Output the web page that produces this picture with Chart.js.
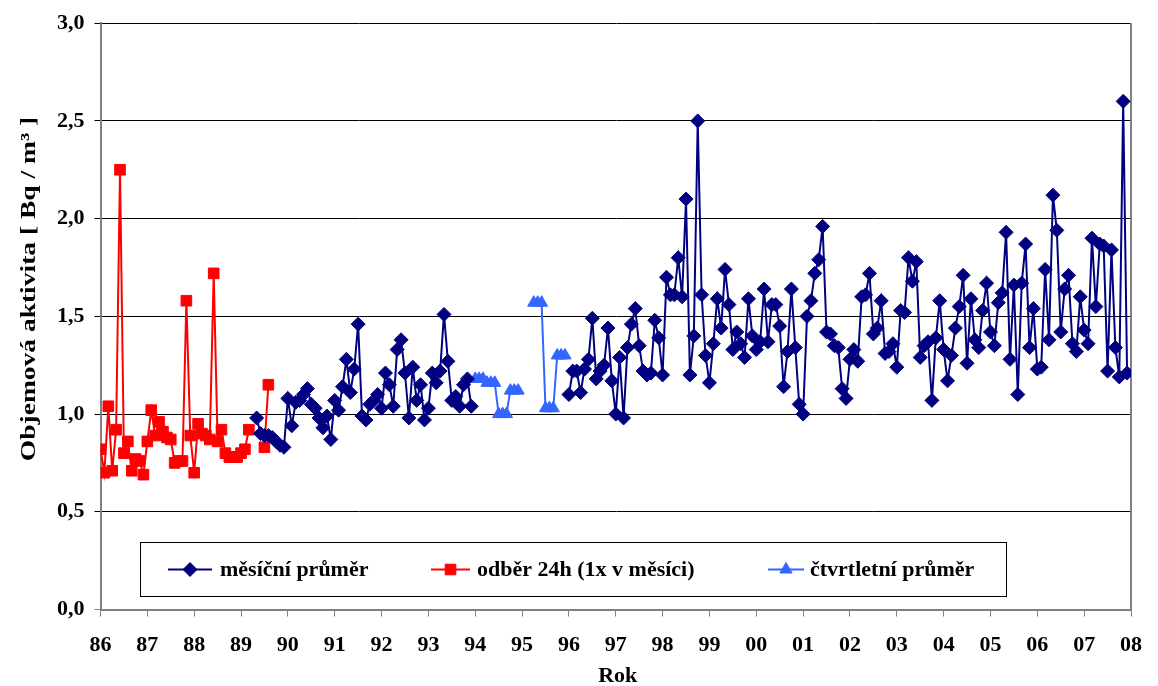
<!DOCTYPE html>
<html>
<head>
<meta charset="utf-8">
<title>Objemová aktivita</title>
<script src="https://cdn.jsdelivr.net/npm/chart.js@4.4.1/dist/chart.umd.min.js"></script>
<style>
  html, body { margin: 0; padding: 0; background: #fff; }
  #wrap { width: 1158px; height: 686px; }
</style>
</head>
<body>
<div id="wrap"><canvas id="chart" width="1158" height="686"></canvas></div>
<script>
// month index 0 = Jan 1986; x value = 86 + month / 12
const firstYear = 86;
const lastYear = 108;
const yTicks = [0, 0.5, 1, 1.5, 2, 2.5, 3];

// odběr 24h (1x v měsíci), from Jan 1986
const redStart = 0;
const redValues = [
  0.82, 0.70, 1.04, 0.71, 0.92, 2.25, 0.80, 0.86, 0.71, 0.77, 0.76, 0.69,
  0.86, 1.02, 0.89, 0.96, 0.91, 0.88, 0.87, 0.75, 0.76, 0.76, 1.58, 0.89,
  0.70, 0.95, 0.90, 0.89, 0.87, 1.72, 0.86, 0.92, 0.80, 0.78, 0.78, 0.78,
  0.80, 0.82, 0.92, null, null, null, 0.83, 1.15
];

// měsíční průměr, first block from May 1989
const monthlyStartA = 40;
const monthlyValuesA = [
  0.98, 0.90, 0.89, 0.89, 0.88, 0.86, 0.84, 0.83,
  1.08, 0.94, 1.06, 1.07, 1.10, 1.13, 1.05, 1.03, 0.98, 0.93, 0.99, 0.87,
  1.07, 1.02, 1.14, 1.28, 1.11, 1.23, 1.46, 0.99, 0.97, 1.05, 1.07, 1.10,
  1.03, 1.21, 1.15, 1.04, 1.33, 1.38, 1.21, 0.98, 1.24, 1.07, 1.15, 0.97,
  1.03, 1.21, 1.16, 1.22, 1.51, 1.27, 1.07, 1.09, 1.04, 1.15, 1.18, 1.04
];

// čtvrtletní průměr, one value per quarter from 1994 (each shown in its 3 months)
const quarterStart = 96;
const quarterValues = [1.18, 1.16, 1.00, 1.12, null, 1.57, 1.03, 1.30];

// měsíční průměr, second block from Jan 1996
const monthlyStartB = 120;
const monthlyValuesB = [
  1.10, 1.22, 1.22, 1.11, 1.23, 1.28, 1.49, 1.18, 1.22, 1.25, 1.44, 1.17,
  1.00, 1.29, 0.98, 1.34, 1.46, 1.54, 1.35, 1.22, 1.20, 1.21, 1.48, 1.39,
  1.20, 1.70, 1.61, 1.61, 1.80, 1.60, 2.10, 1.20, 1.40, 2.50, 1.61, 1.30,
  1.16, 1.36, 1.59, 1.44, 1.74, 1.56, 1.33, 1.42, 1.36, 1.29, 1.59, 1.40,
  1.33, 1.37, 1.64, 1.37, 1.56, 1.56, 1.45, 1.14, 1.32, 1.64, 1.34, 1.05,
  1.00, 1.50, 1.58, 1.72, 1.79, 1.96, 1.42, 1.41, 1.35, 1.34, 1.13, 1.08,
  1.28, 1.33, 1.27, 1.60, 1.61, 1.72, 1.41, 1.44, 1.58, 1.31, 1.32, 1.36,
  1.24, 1.53, 1.52, 1.80, 1.68, 1.78, 1.29, 1.35, 1.37, 1.07, 1.39, 1.58,
  1.33, 1.17, 1.30, 1.44, 1.55, 1.71, 1.26, 1.59, 1.38, 1.34, 1.53, 1.67,
  1.42, 1.35, 1.57, 1.62, 1.93, 1.28, 1.66, 1.10, 1.67, 1.87, 1.34, 1.54,
  1.23, 1.24, 1.74, 1.38, 2.12, 1.94, 1.42, 1.64, 1.71, 1.36, 1.32, 1.60,
  1.43, 1.36, 1.90, 1.55, 1.87, 1.86, 1.22, 1.84, 1.34, 1.19, 2.60, 1.21
];

const serif = '"Liberation Serif", "Times New Roman", serif';
const colMonthly = '#000080';
const colRed = '#FF0000';
const colQuarter = '#3366FF';

function toPoints(start, values) {
  return values.map((v, i) => ({ x: firstYear + (start + i) / 12, y: v }));
}

const monthlyPoints = toPoints(monthlyStartA, monthlyValuesA)
  .concat([{ x: firstYear + (monthlyStartA + monthlyValuesA.length) / 12, y: null }])
  .concat(toPoints(monthlyStartB, monthlyValuesB));

const quarterMonths = [];
quarterValues.forEach(v => { quarterMonths.push(v, v, v); });
const quarterPoints = toPoints(quarterStart, quarterMonths);
const redPoints = toPoints(redStart, redValues);

// plot border + titles + legend box
const decor = {
  id: 'decor',
  beforeDatasetsDraw(chart) {
    const { ctx, chartArea: a } = chart;
    ctx.save();
    ctx.strokeStyle = '#808080';
    ctx.lineWidth = 2;
    ctx.beginPath();
    ctx.moveTo(a.right, a.top);
    ctx.lineTo(a.right, a.bottom);
    ctx.stroke();
    ctx.restore();
  },
  afterDraw(chart) {
    const { ctx, chartArea: a } = chart;
    ctx.save();
    ctx.fillStyle = '#000';
    ctx.textAlign = 'center';
    ctx.textBaseline = 'middle';

    // y title
    ctx.save();
    ctx.translate(29, 289);
    ctx.rotate(-Math.PI / 2);
    ctx.scale(1.25, 1);
    ctx.font = 'bold 22px ' + serif;
    ctx.fillText('Objemová aktivita [ Bq / m³ ]', 0, 0);
    ctx.restore();

    // x title
    ctx.font = 'bold 22px ' + serif;
    ctx.fillText('Rok', (a.left + a.right) / 2 + 2, 676);

    // legend
    ctx.fillStyle = '#fff';
    ctx.fillRect(140, 542, 867, 55);
    ctx.strokeStyle = '#000';
    ctx.lineWidth = 1;
    ctx.strokeRect(140.5, 542.5, 866, 54);
    const ly = 569.5;
    const items = [
      { x1: 168, x2: 212, color: colMonthly, style: 'rectRot', r: 7, text: 'měsíční průměr', tx: 220 },
      { x1: 431, x2: 470, color: colRed, style: 'rect', r: 7.5, text: 'odběr 24h (1x v měsíci)', tx: 477 },
      { x1: 768, x2: 804, color: colQuarter, style: 'triangle', r: 7, text: 'čtvrtletní průměr', tx: 810 }
    ];
    ctx.font = 'bold 22px ' + serif;
    ctx.textAlign = 'left';
    items.forEach(it => {
      ctx.strokeStyle = it.color;
      ctx.lineWidth = 2;
      ctx.beginPath();
      ctx.moveTo(it.x1, ly);
      ctx.lineTo(it.x2, ly);
      ctx.stroke();
      ctx.fillStyle = it.color;
      ctx.lineWidth = 1;
      Chart.helpers.drawPoint(ctx, { pointStyle: it.style, radius: it.r, rotation: 0, borderWidth: 1 },
        (it.x1 + it.x2) / 2, ly);
      ctx.fillStyle = '#000';
      ctx.fillText(it.text, it.tx, ly + 1);
    });
    ctx.restore();
  }
};

new Chart(document.getElementById('chart'), {
  type: 'line',
  data: {
    datasets: [
      {
        label: 'měsíční průměr',
        data: monthlyPoints,
        borderColor: colMonthly,
        backgroundColor: colMonthly,
        borderWidth: 2,
        pointStyle: 'rectRot',
        pointRadius: 7,
        pointBorderWidth: 1,
        spanGaps: false
      },
      {
        label: 'odběr 24h (1x v měsíci)',
        data: redPoints,
        borderColor: colRed,
        backgroundColor: colRed,
        borderWidth: 2,
        pointStyle: 'rect',
        pointRadius: 7.5,
        pointBorderWidth: 1,
        spanGaps: false
      },
      {
        label: 'čtvrtletní průměr',
        data: quarterPoints,
        borderColor: colQuarter,
        backgroundColor: colQuarter,
        borderWidth: 2,
        pointStyle: 'triangle',
        pointRadius: 7,
        pointBorderWidth: 1,
        spanGaps: false
      }
    ]
  },
  options: {
    responsive: false,
    animation: false,
    devicePixelRatio: 1,
    layout: { padding: { top: 22, right: 18, left: 0, bottom: 0 } },
    elements: { line: { tension: 0 } },
    plugins: { legend: { display: false }, tooltip: { enabled: false } },
    scales: {
      x: {
        type: 'linear',
        min: firstYear,
        max: lastYear,
        afterFit: s => { s.height = 76.5; },
        ticks: {
          stepSize: 1,
          autoSkip: false,
          maxRotation: 0,
          padding: 16,
          color: '#000',
          font: { family: serif, size: 22, weight: 'bold' },
          callback: v => String(Math.round(v) % 100).padStart(2, '0')
        },
        grid: { drawOnChartArea: false, tickLength: 7, color: '#808080', lineWidth: 1 },
        border: { color: '#808080', width: 2 }
      },
      y: {
        min: yTicks[0],
        max: yTicks[yTicks.length - 1],
        afterFit: s => { s.width = 100.5; },
        afterBuildTicks: s => { s.ticks = yTicks.map(v => ({ value: v })); },
        ticks: {
          padding: 10,
          color: '#000',
          font: { family: serif, size: 22, weight: 'bold' },
          callback: v => v.toFixed(1).replace('.', ',')
        },
        grid: {
          color: c => (c.tick && c.tick.value === 0 ? '#808080' : '#000'),
          tickLength: 6,
          lineWidth: 1
        },
        border: { color: '#808080', width: 2 }
      }
    }
  },
  plugins: [decor]
});
</script>
</body>
</html>
